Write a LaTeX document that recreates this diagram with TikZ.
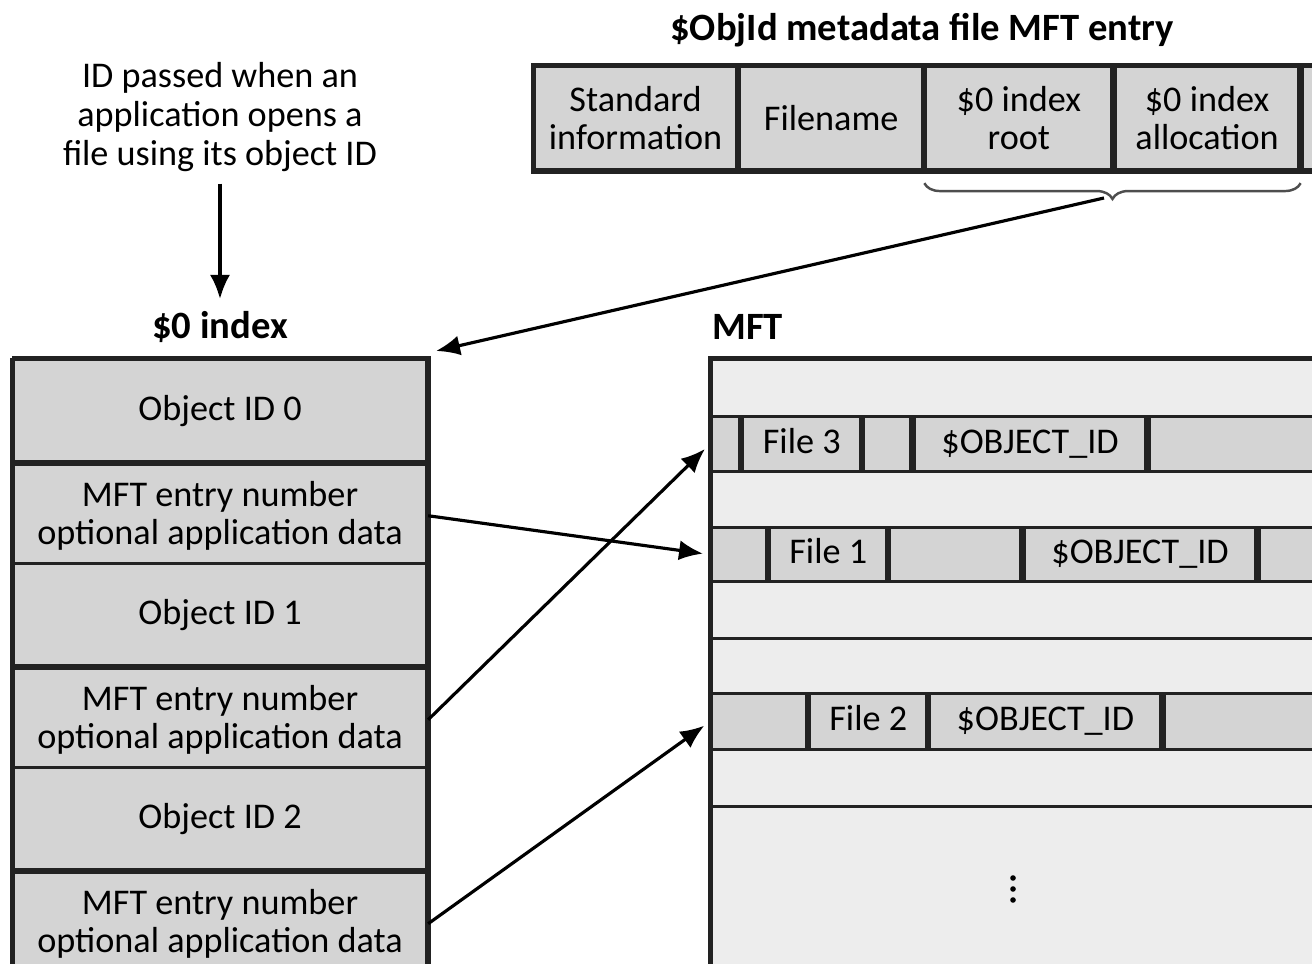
\documentclass[tikz,border=0pt]{standalone}
\usepackage{fontspec}
\setmainfont{Carlito}
\usetikzlibrary{arrows.meta,positioning,decorations.pathreplacing}
\definecolor{cellgray}{RGB}{212,212,212}
\definecolor{rowlight}{RGB}{237,237,237}
\definecolor{edgedark}{RGB}{34,34,34}

\tikzset{
  cell/.style={draw=edgedark, fill=cellgray, line width=0.9pt, inner sep=0pt,
    align=center, font=\fontsize{10.3}{10.6}\selectfont},
  rec/.style={cell, text height=1.55ex, text depth=0.45ex},
  lightrow/.style={draw=edgedark, fill=rowlight, line width=0.9pt, inner sep=0pt,
    anchor=north west, minimum width=6.2cm},
  heading/.style={font=\fontsize{11}{12}\selectfont\bfseries},
  note/.style={align=center, font=\fontsize{10.3}{11}\selectfont},
  ptr/.style={-{Latex[length=2.4mm,width=2mm]}, line width=0.9pt, black},
  frame/.style={draw=edgedark, line width=1.4pt},
}

\begin{document}
\begin{tikzpicture}[x=0.1mm,y=-0.1mm]
  \useasboundingbox (0,0) rectangle (1312,964);

  % note and $0 index heading
  \node[note] (note) at (220,117) {ID passed when an\\application opens a\\file using its object ID};
  \node[heading] (idxlbl) at (220,327) {\$0 index};
  \draw[ptr] (note.south) -- (idxlbl.north);

  % $0 index table
  \foreach \i in {0,1,2} {
    \node[cell, anchor=north west, minimum width=4.13cm, minimum height=1.02cm]
      (obj\i) at (12,{358+204*\i}) {Object ID \i};
    \node[cell, below=0pt of obj\i, minimum width=4.13cm, minimum height=1.02cm]
      (ent\i) {MFT entry number\\optional application data};
  }
  \draw[frame] (obj0.north west) -- (obj0.north east) -- (ent2.south east);
  \draw[frame] (obj0.north west) -- (ent2.south west);

  % $ObjId MFT entry
  \node[heading] (entlbl) at (922,30) {\$ObjId metadata file MFT entry};
  \node[cell, anchor=north west, minimum width=2.02cm, minimum height=1.03cm]
    (std) at (533,65) {Standard\\information};
  \node[cell, right=0pt of std, minimum width=1.83cm, minimum height=1.03cm] (fname) {Filename};
  \node[cell, right=0pt of fname, minimum width=1.86cm, minimum height=1.03cm] (iroot) {\$0 index\\root};
  \node[cell, right=0pt of iroot, minimum width=1.84cm, minimum height=1.03cm] (ialloc) {\$0 index\\allocation};
  \node[cell, right=0pt of ialloc, minimum width=0.6cm, minimum height=1.03cm] (etail) {};
  \draw[frame] (etail.north east) -- (std.north west) -- (std.south west) -- (etail.south east);

  \draw[edgedark!80, line width=0.7pt, decorate, decoration={brace,mirror,amplitude=4.5pt}]
    ([yshift=-1.2mm]iroot.south west) -- ([yshift=-1.2mm]ialloc.south east);
  \coordinate (bracetip) at (1104,198);
  \coordinate (idxtop) at (436,351);
  \draw[ptr] (bracetip) -- (idxtop);

  % MFT
  \node[heading, anchor=west] (mftlbl) at (700,327) {MFT};
  \foreach \n/\t/\h in {r0/358/0.57, r2/470/0.56, r4/580/0.57, r5/637/0.55, r7/748/0.57, r8/805/2.0} {
    \node[lightrow, minimum height=\h cm] (\n) at (710,\t) {};
  }

  % file 3 record
  \node[rec, anchor=north west, minimum width=0.28cm, minimum height=0.55cm] (a3) at (710,415) {};
  \node[rec, right=0pt of a3, minimum width=1.18cm, minimum height=0.55cm] (file3) {File 3};
  \node[rec, right=0pt of file3, minimum width=0.47cm, minimum height=0.55cm] (b3) {};
  \node[rec, right=0pt of b3, minimum width=2.32cm, minimum height=0.55cm] (oid3) {\$OBJECT\_ID};
  \node[rec, right=0pt of oid3, minimum width=1.95cm, minimum height=0.55cm] (c3) {};

  % file 1 record
  \node[rec, anchor=north west, minimum width=0.55cm, minimum height=0.54cm] (a1) at (710,526) {};
  \node[rec, right=0pt of a1, minimum width=1.17cm, minimum height=0.54cm] (file1) {File 1};
  \node[rec, right=0pt of file1, minimum width=1.31cm, minimum height=0.54cm] (b1) {};
  \node[rec, right=0pt of b1, minimum width=2.32cm, minimum height=0.54cm] (oid1) {\$OBJECT\_ID};
  \node[rec, right=0pt of oid1, minimum width=0.85cm, minimum height=0.54cm] (c1) {};

  % file 2 record
  \node[rec, anchor=north west, minimum width=0.95cm, minimum height=0.56cm] (a2) at (710,692) {};
  \node[rec, right=0pt of a2, minimum width=1.17cm, minimum height=0.56cm] (file2) {File 2};
  \node[rec, right=0pt of file2, minimum width=2.31cm, minimum height=0.56cm] (oid2) {\$OBJECT\_ID};
  \node[rec, right=0pt of oid2, minimum width=1.77cm, minimum height=0.56cm] (c2) {};

  \draw[frame] (r8.south west) -- (r0.north west) -- (r0.north east);
  \foreach \d in {878,889,900}
    \fill (1013,\d) circle (0.28mm);

  % references into the MFT
  \draw[ptr, shorten >=0.7mm] (ent0.east) -- (a1.west);
  \draw[ptr, shorten >=0.7mm] (ent1.east) -- (a3.west);
  \draw[ptr, shorten >=0.7mm] (ent2.east) -- (a2.west);
\end{tikzpicture}
\end{document}
